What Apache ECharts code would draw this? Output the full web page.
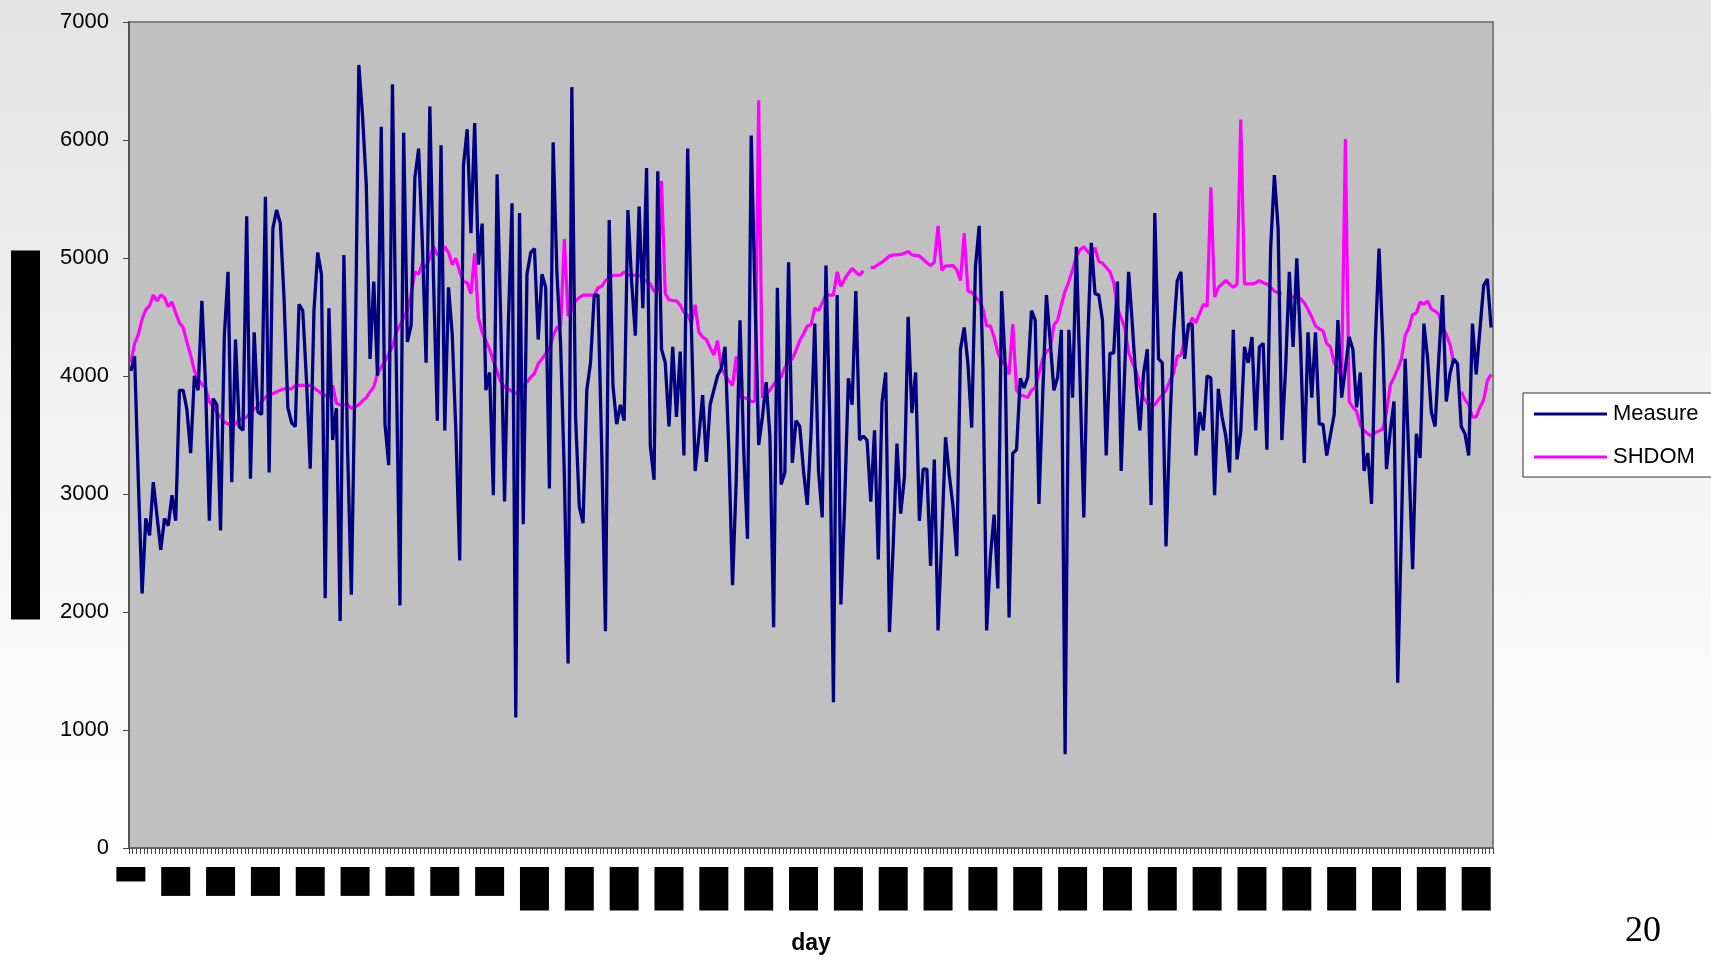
<!DOCTYPE html>
<html>
<head>
<meta charset="utf-8">
<script src="https://cdn.jsdelivr.net/npm/echarts@6/dist/echarts.min.js"></script>
<style>
html,body{margin:0;padding:0;width:1711px;height:960px;overflow:hidden;}
body{background:linear-gradient(to bottom,#e3e3e3 0%,#f3f3f3 45%,#ffffff 90%);}
#chart{width:1711px;height:960px;}
</style>
</head>
<body>
<div id="chart"></div>
<script>
const seriesNames = ['Measure', 'SHDOM'];
const yTicks = [0, 1000, 2000, 3000, 4000, 5000, 6000, 7000];
const xTitle = 'day';
const yTitle = 'Wh/m²';
const slideNumber = '20';

const measure = [
4043,4166,3112,2158,2793,2650,3100,2813,2527,2793,
2732,2990,2773,3879,3879,3715,3346,4002,3879,4637,
3911,2773,3809,3756,2691,4330,4883,3100,4309,3572,
3539,5354,3129,4370,3694,3674,5518,3182,5251,5407,
5292,4650,3735,3604,3572,4608,4555,3960,3215,4555,
5046,4862,2117,4575,3457,3727,1924,5026,3370,2146,
4060,6636,6200,5620,4145,4801,4002,6112,3592,3244,
6472,4145,2056,6062,4288,4432,5681,5927,5128,4112,
6284,4800,3621,5956,3539,4751,4350,3500,2437,5784,
6091,5210,6144,4944,5292,3879,4030,2990,5710,4440,
2936,4424,5464,1105,5382,2744,4862,5046,5079,4309,
4862,4751,3047,5980,4883,4268,3158,1564,6448,3653,
2895,2752,3879,4112,4686,4686,3367,1838,5321,3920,
3592,3756,3621,5407,4800,4342,5436,4575,5763,3408,
3121,5735,4227,4112,3572,4247,3653,4207,3326,5927,
4400,3195,3490,3838,3272,3756,3880,4002,4063,4247,
3379,2228,3121,4473,3367,2621,6038,4698,3416,3653,
3948,3490,1871,4747,3080,3182,4964,3264,3621,3572,
3195,2908,3510,4444,3203,2801,4936,3650,1236,4686,
2064,2916,3981,3756,4719,3457,3490,3457,2936,3539,
2445,3776,4030,1830,2568,3428,2834,3141,4501,3686,
4030,2773,3211,3211,2391,3293,1843,2630,3481,3162,
2895,2473,4227,4411,4104,3563,4923,5272,4063,1843,
2465,2826,2199,4719,4063,1953,3346,3375,3981,3899,
3989,4555,4473,2916,3830,4686,4300,3879,3989,4391,
794,4391,3817,5096,3960,2801,4260,5128,4698,4686,
4473,3326,4194,4194,4801,3195,4100,4883,4432,3940,
3539,4022,4227,2908,5382,4145,4112,2556,3551,4350,
4808,4883,4145,4440,4440,3326,3694,3539,4002,3981,
2990,3891,3653,3490,3182,4391,3293,3530,4247,4112,
4330,3539,4247,4276,3375,5087,5702,5251,3457,4063,
4883,4247,4997,4268,3264,4370,3817,4370,3592,3592,
3326,3500,3674,4473,3817,4063,4330,4227,3735,4030,
3195,3346,2916,4288,5079,4300,3211,3531,3784,1400,
2700,4145,3285,2363,3510,3305,4444,4150,3694,3572,
4153,4686,3784,4022,4145,4104,3572,3510,3326,4444,
4014,4391,4768,4821,4411
];

const shdom = [
4112,4276,4350,4481,4563,4596,4686,4637,4686,4665,
4588,4628,4534,4452,4411,4288,4178,4043,3973,3930,
3899,3784,3740,3694,3650,3612,3592,3592,3592,3633,
3640,3653,3694,3720,3744,3784,3820,3838,3850,3866,
3880,3891,3891,3891,3920,3920,3920,3920,3920,3899,
3875,3850,3835,3817,3920,3768,3756,3756,3756,3727,
3740,3756,3790,3817,3866,3907,4022,4075,4125,4190,
4247,4370,4430,4493,4555,4698,4883,4862,4956,4915,
5005,5096,5026,5026,5096,5046,4944,4997,4883,4801,
4792,4698,5038,4493,4370,4300,4227,4125,4040,3948,
3907,3891,3870,3850,3879,3920,3950,3989,4022,4104,
4145,4190,4227,4342,4411,4424,5161,4506,4563,4637,
4665,4686,4686,4686,4686,4747,4760,4808,4830,4854,
4854,4854,4883,4854,4854,4854,4854,4821,4801,4780,
4719,4719,5653,4698,4645,4640,4637,4600,4540,4514,
4452,4604,4370,4330,4309,4240,4178,4300,4063,4010,
3960,3920,4166,3825,3815,3809,3784,3784,6337,3817,
3850,3879,3930,3960,3990,4071,4125,4145,4220,4300,
4358,4424,4432,4575,4555,4620,4686,4686,4686,4883,
4760,4821,4870,4911,4880,4854,4891,null,4915,4923,
4945,4964,4990,5018,5026,5026,5030,5040,5055,5026,
5022,5018,4990,4960,4936,4964,5272,4895,4932,4934,
4936,4900,4809,5210,4719,4710,4670,4637,4575,4424,
4424,4330,4194,4125,4096,4014,4440,3879,3838,3830,
3817,3879,3900,4022,4145,4207,4230,4432,4473,4604,
4720,4800,4900,5014,5070,5096,5055,5026,5087,4972,
4956,4920,4883,4792,4575,4493,4400,4200,4112,4043,
3920,3817,3768,3760,3756,3800,3838,3879,3960,4022,
4166,4178,4309,4391,4493,4452,4530,4608,4588,5599,
4669,4751,4780,4809,4780,4751,4780,6173,4780,4780,
4780,4790,4809,4790,4780,4750,4719,4705,4698,null,
4669,4669,4669,4657,4620,4563,4500,4424,4400,4383,
4276,4247,4112,4063,3989,6009,3784,3735,3700,3580,
3539,3510,3490,3522,3535,3551,3694,3920,3989,4060,
4145,4342,4411,4522,4534,4628,4608,4637,4567,4550,
4522,4420,4350,4268,4104,null,3866,3800,3756,3653,
3653,3735,3797,3961,4014
];

const days = measure.map((_, i) => String(i + 1));

const chart = echarts.init(document.getElementById('chart'), null, {renderer: 'canvas'});
const FONT = 'Liberation Sans, Arial, sans-serif';

chart.setOption({
  backgroundColor: 'transparent',
  animation: false,
  grid: {
    left: 129, right: 218, top: 22, bottom: 110,
    show: true, backgroundColor: '#c0c0c0',
    borderColor: '#808080', borderWidth: 2
  },
  legend: {
    data: seriesNames,
    orient: 'vertical',
    left: 1523, top: 393,
    backgroundColor: '#ffffff',
    borderColor: '#333333', borderWidth: 1,
    padding: [8, 30, 7, 11],
    itemWidth: 73, itemHeight: 3, itemGap: 17,
    icon: 'rect',
    selectedMode: false,
    textStyle: {fontFamily: FONT, fontSize: 22, color: '#000', lineHeight: 26, padding: [0, 0, 0, 1]}
  },
  xAxis: {
    type: 'category',
    data: days,
    boundaryGap: true,
    name: xTitle,
    nameLocation: 'middle',
    nameGap: 84,
    nameTextStyle: {fontFamily: FONT, fontSize: 23, fontWeight: 'bold', color: '#000'},
    axisLine: {lineStyle: {color: '#666666', width: 2}},
    axisTick: {show: true, interval: 0, length: 6, inside: false, lineStyle: {color: '#444444', width: 1}},
    axisLabel: {
      interval: 11, rotate: 90, margin: 19,
      fontFamily: FONT, fontSize: 26, lineHeight: 29,
      color: '#000000', backgroundColor: '#000000'
    },
    splitLine: {show: false}
  },
  yAxis: {
    type: 'value',
    min: yTicks[0], max: yTicks[yTicks.length - 1], interval: 1000,
    name: yTitle,
    nameLocation: 'middle',
    nameRotate: 90,
    nameGap: 89,
    nameTextStyle: {
      fontFamily: FONT, fontSize: 22, color: '#000000', backgroundColor: '#000000',
      lineHeight: 29, padding: [0, 152, 0, 152]
    },
    axisLine: {show: true, lineStyle: {color: '#555555', width: 2}},
    axisTick: {show: true, length: 6, lineStyle: {color: '#444444'}},
    axisLabel: {fontFamily: FONT, fontSize: 22, color: '#000', margin: 20, formatter: function (v) { return String(v); }},
    splitLine: {show: false}
  },
  series: [
    {
      name: seriesNames[0], type: 'line', data: measure,
      showSymbol: false, symbol: 'none', z: 4,
      color: '#000080',
      lineStyle: {color: '#000080', width: 3.3}
    },
    {
      name: seriesNames[1], type: 'line', data: shdom,
      showSymbol: false, symbol: 'none', z: 3, connectNulls: false,
      color: '#ff00ff',
      lineStyle: {color: '#ff00ff', width: 3.2}
    }
  ],
  graphic: [
    {
      type: 'text', left: 1625, top: 914,
      style: {text: slideNumber, font: '36px "Liberation Serif", "Times New Roman", serif', fill: '#000'}
    }
  ]
});
</script>
</body>
</html>
